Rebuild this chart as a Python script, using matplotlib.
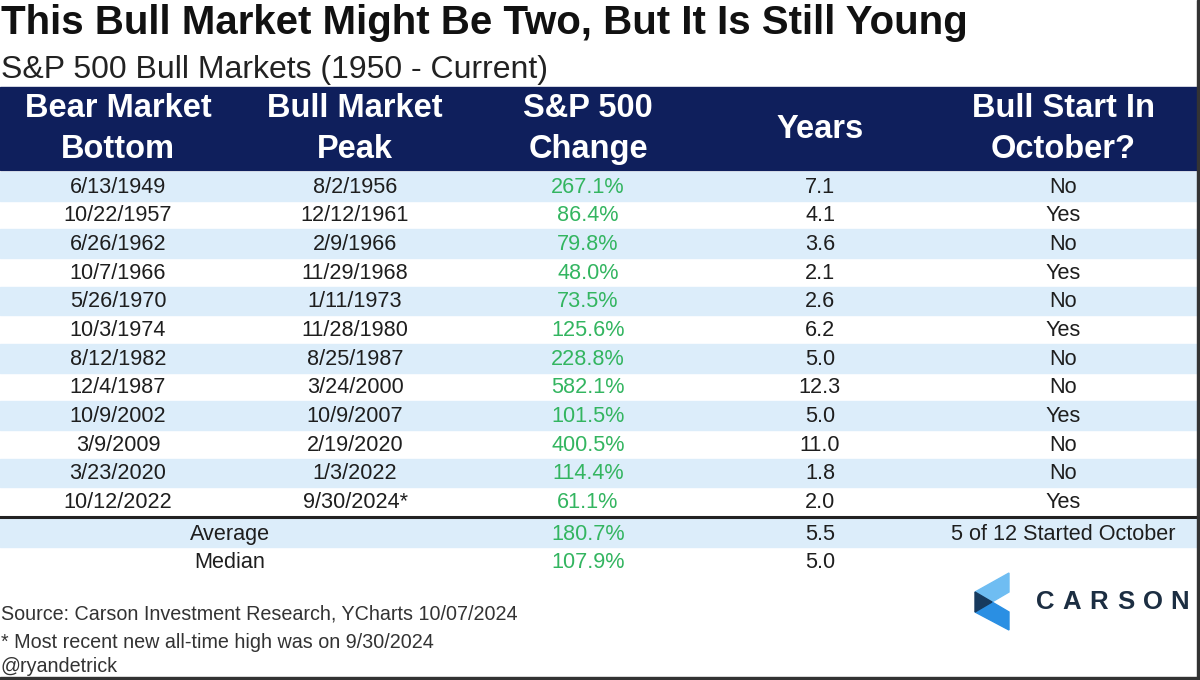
import matplotlib.pyplot as plt
from matplotlib.patches import Rectangle, Polygon

plt.rcParams['font.family'] = ['Liberation Sans', 'DejaVu Sans']

# Tabellendaten
bottoms = ["6/13/1949", "10/22/1957", "6/26/1962", "10/7/1966", "5/26/1970", "10/3/1974",
           "8/12/1982", "12/4/1987", "10/9/2002", "3/9/2009", "3/23/2020", "10/12/2022"]
peaks = ["8/2/1956", "12/12/1961", "2/9/1966", "11/29/1968", "1/11/1973", "11/28/1980",
         "8/25/1987", "3/24/2000", "10/9/2007", "2/19/2020", "1/3/2022", "9/30/2024*"]
changes = [267.1, 86.4, 79.8, 48.0, 73.5, 125.6, 228.8, 582.1, 101.5, 400.5, 114.4, 61.1]
years = [7.1, 4.1, 3.6, 2.1, 2.6, 6.2, 5.0, 12.3, 5.0, 11.0, 1.8, 2.0]
october = ["No", "Yes", "No", "Yes", "No", "Yes", "No", "No", "Yes", "No", "No", "Yes"]

summary_labels = ["Average", "Median"]
summary_changes = [180.7, 107.9]
summary_years = [5.5, 5.0]
summary_october = ["5 of 12 Started October", ""]

headers = ["Bear Market\nBottom", "Bull Market\nPeak", "S&P 500\nChange", "Years", "Bull Start In\nOctober?"]

NAVY = "#0f1f5c"
LIGHT = "#dcedfa"
GREEN = "#33b560"
DARK = "#1e1e1e"
FS = 15.6

fig = plt.figure(figsize=(12, 6.8), dpi=100)
ax = fig.add_axes([0, 0, 1, 1])
ax.set_xlim(0, 1200)
ax.set_ylim(680, 0)
ax.axis("off")

# Titel
ax.text(1, 23, "This Bull Market Might Be Two, But It Is Still Young", fontsize=29,
        fontweight="bold", color="#111111", va="center", ha="left")
ax.text(1, 70, "S&P 500 Bull Markets (1950 - Current)", fontsize=23,
        color="#222222", va="center", ha="left")

# Kopfzeile
col_x = [118, 355, 588, 820, 1063]
ax.add_patch(Rectangle((0, 87), 1197, 83, color=NAVY, zorder=1))
for x, h in zip(col_x, headers):
    ax.text(x, 129, h, fontsize=23.5, fontweight="bold", color="white",
            ha="center", va="center", linespacing=1.42, zorder=3)

# Datenzeilen
top = 172
row_h = 28.65
for i in range(len(bottoms)):
    y0 = top + i * row_h
    if i % 2 == 0:
        ax.add_patch(Rectangle((0, y0), 1197, row_h, color=LIGHT, zorder=1))
    yc = y0 + row_h / 2 + 1
    ax.text(col_x[0], yc, bottoms[i], fontsize=FS, color=DARK, ha="center", va="center")
    ax.text(col_x[1], yc, peaks[i], fontsize=FS, color=DARK, ha="center", va="center")
    ax.text(col_x[2], yc, f"{changes[i]:.1f}%", fontsize=FS, color=GREEN, ha="center", va="center")
    ax.text(col_x[3], yc, f"{years[i]:.1f}", fontsize=FS, color=DARK, ha="center", va="center")
    ax.text(col_x[4], yc, october[i], fontsize=FS, color=DARK, ha="center", va="center")

# Trennlinie
sep = top + len(bottoms) * row_h
ax.plot([0, 1197], [sep + 1, sep + 1], color="#222222", lw=2.2, zorder=4)

# Zusammenfassung
for j in range(len(summary_labels)):
    y0 = sep + 3 + j * row_h
    if j == 0:
        ax.add_patch(Rectangle((0, y0), 1197, row_h, color=LIGHT, zorder=1))
    yc = y0 + row_h / 2 + 1
    ax.text(230, yc, summary_labels[j], fontsize=FS, color=DARK, ha="center", va="center")
    ax.text(col_x[2], yc, f"{summary_changes[j]:.1f}%", fontsize=FS, color=GREEN, ha="center", va="center")
    ax.text(col_x[3], yc, f"{summary_years[j]:.1f}", fontsize=FS, color=DARK, ha="center", va="center")
    ax.text(col_x[4], yc, summary_october[j], fontsize=FS, color=DARK, ha="center", va="center")

# Fußnoten
ax.text(1, 614, "Source: Carson Investment Research, YCharts 10/07/2024", fontsize=14.2,
        color="#333333", ha="left", va="center")
ax.text(1, 642, "* Most recent new all-time high was on 9/30/2024", fontsize=14.2,
        color="#333333", ha="left", va="center")
ax.text(1, 667, "@ryandetrick", fontsize=14.2, color="#333333", ha="left", va="center")

# Logo
ax.add_patch(Polygon([[975, 592], [1009, 573], [1009, 592], [992, 602]], color="#6fbdf2", zorder=3))
ax.add_patch(Polygon([[975, 612], [992, 602], [1009, 612], [1009, 630]], color="#2a8fe3", zorder=3))
ax.add_patch(Polygon([[975, 592], [992, 602], [975, 612]], color="#173a5e", zorder=4))
for k, ch in enumerate("CARSON"):
    ax.text(1045 + k * 27, 602, ch, fontsize=18.5, fontweight="bold", color="#1c2e42",
            ha="center", va="center")

# Rahmen rechts und unten
ax.add_patch(Rectangle((1197, 0), 3, 680, color="#333333", zorder=5))
ax.add_patch(Rectangle((0, 677), 1200, 3, color="#333333", zorder=5))

fig.savefig("out.png", dpi=100)
